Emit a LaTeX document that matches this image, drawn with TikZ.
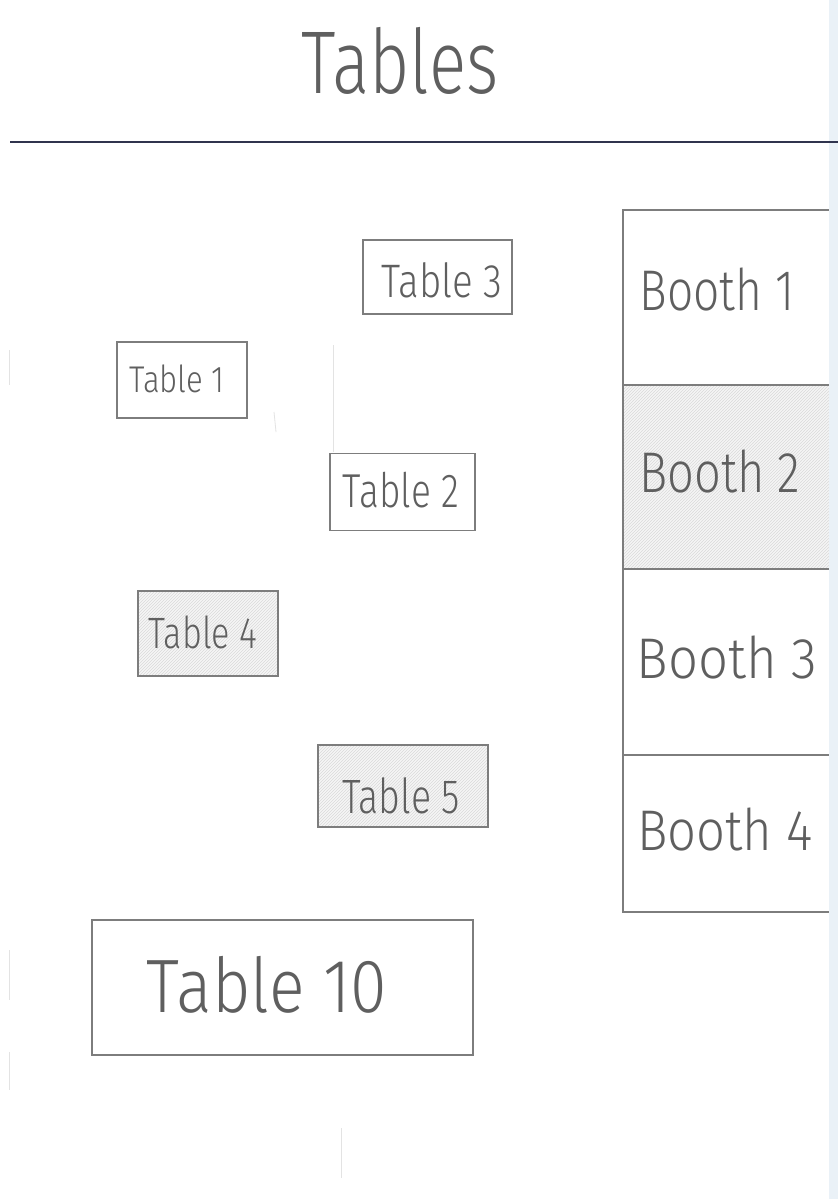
\documentclass[tikz,border=0pt]{standalone}
\usepackage{fontspec}
\usetikzlibrary{patterns}
\newfontfamily\handfont{Fira Sans Light}
\definecolor{pencil}{RGB}{125,125,125}
\definecolor{pentext}{RGB}{95,95,95}
\definecolor{strip}{RGB}{234,241,247}
\definecolor{rule}{RGB}{48,52,78}
\newcommand{\tall}[2][0.95]{\scalebox{#1}[1.22]{#2}}
\tikzset{
  tbox/.style={draw=pencil, line width=1.1pt, inner sep=0pt, rectangle},
  shaded/.style={preaction={fill=gray!7}, pattern=north east lines, pattern color=gray!30},
  hand/.style={text=pentext, inner sep=0pt, anchor=base, font=\handfont\fontsize{#1}{#1}\selectfont},
  faint/.style={draw=gray!22, line width=0.8pt}
}
\begin{document}
\begin{tikzpicture}[x=1pt,y=-1pt]
\useasboundingbox (0,0) rectangle (838,1199);
\fill[white] (0,0) rectangle (838,1199);

% title
\node[hand=73] (title) at (400,93) {\tall{Tables}};

% tables
\node[tbox, minimum width=149pt, minimum height=74pt] (t3) at (437.5,277) {};
\node[hand=38.5] (t3l) at (442,297) {\tall[1.0]{Table 3}};

\node[tbox, minimum width=130pt, minimum height=76pt] (t1) at (182,380) {};
\node[hand=30.5] (t1l) at (177,392) {\tall[1.02]{Table 1}};

\node[tbox, minimum width=145pt, minimum height=77pt] (t2) at (402.5,492) {};
\node[hand=39] (t2l) at (401,507) {\tall{Table 2}};

\node[tbox, shaded, minimum width=140pt, minimum height=85pt] (t4) at (208,633.5) {};
\node[hand=36] (t4l) at (203,648) {\tall{Table 4}};

\node[tbox, shaded, minimum width=170pt, minimum height=82pt] (t5) at (403,786) {};
\node[hand=39.5] (t5l) at (401,813) {\tall{Table 5}};

\node[tbox, minimum width=381pt, minimum height=135pt] (t10) at (282.5,987.5) {};
\node[hand=62] (t10l) at (267,1012) {\tall[1.07]{Table 10}};

% booths
\node[tbox, minimum width=210pt, minimum height=175pt] (b1) at (728,297.5) {};
\node[tbox, shaded, minimum width=210pt, minimum height=184pt] (b2) at (728,477) {};
\node[tbox, minimum width=210pt, minimum height=186pt] (b3) at (728,662) {};
\node[tbox, minimum width=210pt, minimum height=157pt] (b4) at (728,833.5) {};
\node[hand=47] (b1l) at (717,310) {\tall[0.98]{Booth 1}};
\node[hand=47] (b2l) at (720,492) {\tall[1.0]{Booth 2}};
\node[hand=47] (b3l) at (727,678) {\tall[1.12]{Booth 3}};
\node[hand=47] (b4l) at (725,850) {\tall[1.08]{Booth 4}};

% faint pencil marks
\draw[faint] (333,345) -- (333,452);
\draw[faint] (274,412) -- (276,432);
\draw[faint] (341,1128) -- (341,1178);
\draw[faint] (9,350) -- (9,385);
\draw[faint] (9,950) -- (9,1000);
\draw[faint] (9,1052) -- (9,1090);

% right strip
\fill[strip] (829,0) rectangle (838,1199);

% rule under title
\draw[rule, line width=1.6pt] (10,142) -- (838,142);
\end{tikzpicture}
\end{document}
